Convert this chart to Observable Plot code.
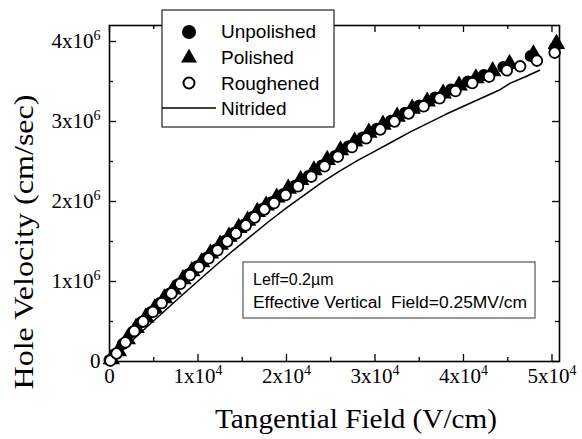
<!DOCTYPE html>
<html><head><meta charset="utf-8">
<script src="https://cdn.jsdelivr.net/npm/d3@7"></script>
<script src="https://cdn.jsdelivr.net/npm/@observablehq/plot@0.6"></script>
<style>body{margin:0;background:#fff}</style>
</head><body><div id="chart"></div>
<script>
// Field in units of 10^3 V/cm, velocity in units of 10^6 cm/sec
const unpolishedX = [0,0.6,1.5,2.6,3.6,4.7,5.7,6.8,7.8,8.9,9.9,11.0,12.0,13.1,14.1,15.2,16.2,17.3,18.3,19.6,21.0,22.5,24.0,25.5,27.0,28.6,30.2,31.8,33.4,35.0,36.8,38.6,40.5,42.3,44.5,47.6,50.3];
const unpolishedV = [0.02,0.09,0.22,0.37,0.49,0.62,0.73,0.85,0.97,1.09,1.19,1.30,1.40,1.51,1.61,1.71,1.81,1.91,1.99,2.09,2.20,2.32,2.45,2.57,2.69,2.80,2.91,3.01,3.11,3.20,3.30,3.40,3.50,3.58,3.68,3.82,3.92];
const polishedX = [0.2,1.0,2.0,3.0,4.1,5.1,6.2,7.2,8.3,9.3,10.4,11.4,12.5,13.5,14.6,15.6,16.7,17.7,18.9,20.2,21.6,23.1,24.6,26.1,27.7,29.3,30.9,32.5,34.2,35.9,37.7,39.5,41.4,43.3,45.2,47.9,50.5];
const polishedV = [0.03,0.13,0.28,0.42,0.55,0.66,0.79,0.90,1.03,1.13,1.24,1.35,1.46,1.56,1.67,1.76,1.87,1.95,2.05,2.16,2.27,2.39,2.52,2.64,2.75,2.86,2.96,3.06,3.16,3.25,3.35,3.45,3.54,3.63,3.72,3.84,3.97];
const roughenedX = [0.1,0.8,1.8,2.8,3.8,4.9,5.9,7.0,8.0,9.1,10.1,11.2,12.2,13.3,14.3,15.4,16.4,17.5,18.6,19.9,21.3,22.8,24.3,25.8,27.4,29.0,30.6,32.2,33.8,35.5,37.3,39.1,41.0,42.9,44.9,46.4,48.3,50.3];
const roughenedV = [0.01,0.10,0.24,0.38,0.50,0.62,0.73,0.85,0.97,1.08,1.18,1.29,1.39,1.50,1.60,1.70,1.80,1.90,1.98,2.08,2.19,2.31,2.44,2.56,2.68,2.79,2.90,3.00,3.10,3.19,3.29,3.38,3.48,3.56,3.64,3.69,3.76,3.86];
const nitridedX = [0,4,8,12,14,16,18,20,22,24,26,28,30,32,34,36,38,40,42,44,45.3,47,48.6];
const nitridedV = [0,0.41,0.81,1.2,1.39,1.57,1.75,1.92,2.08,2.24,2.38,2.51,2.63,2.75,2.87,2.98,3.09,3.19,3.29,3.39,3.48,3.56,3.64];

const xMajor = [0,10,20,30,40,50];
const xMinor = [5,15,25,35,45];
const xTickLabels = ["0","1x10^4","2x10^4","3x10^4","4x10^4","5x10^4"];
const yMajor = [0,1,2,3,4];
const yMinor = [0.5,1.5,2.5,3.5];
const yTickLabels = ["0","1x10^6","2x10^6","3x10^6","4x10^6"];
const seriesNames = ["Unpolished","Polished","Roughened","Nitrided"];
const xTitle = "Tangential Field (V/cm)";
const yTitle = "Hole Velocity (cm/sec)";
const noteLines = ["Leff=0.2\u00b5m","Effective Vertical\u00a0\u00a0Field=0.25MV/cm"];

const toRows = (xs, vs) => xs.map((x, i) => ({x, v: vs[i]}));
const unpolished = toRows(unpolishedX, unpolishedV);
const polished = toRows(polishedX, polishedV);
const roughened = toRows(roughenedX, roughenedV);
const nitrided = toRows(nitridedX, nitridedV);

const W = 582, H = 439, ML = 109, MR = 23, MT = 25, MB = 78;
const FW = W - ML - MR, FH = H - MT - MB;
const serif = "'Liberation Serif','Times New Roman',serif";
const sans = "'Liberation Sans',Arial,sans-serif";

const svg = Plot.plot({
  width: W, height: H,
  marginLeft: ML, marginRight: MR, marginTop: MT, marginBottom: MB,
  x: {domain: [0, 50.85]},
  y: {domain: [0, 4.2]},
  style: {fontFamily: serif, background: "white", color: "black", overflow: "visible"},
  marks: [
    Plot.ruleX(xMajor, {insetTop: FH - 7, strokeWidth: 1.3}),
    Plot.ruleX(xMajor, {insetBottom: FH - 7, strokeWidth: 1.3}),
    Plot.ruleX(xMinor, {insetTop: FH - 4, strokeWidth: 1.3}),
    Plot.ruleX(xMinor, {insetBottom: FH - 4, strokeWidth: 1.3}),
    Plot.ruleY(yMajor, {insetRight: FW - 7, strokeWidth: 1.3}),
    Plot.ruleY(yMajor, {insetLeft: FW - 7, strokeWidth: 1.3}),
    Plot.ruleY(yMinor, {insetRight: FW - 4, strokeWidth: 1.3}),
    Plot.ruleY(yMinor, {insetLeft: FW - 4, strokeWidth: 1.3}),
    Plot.frame({stroke: "black", strokeWidth: 1.6}),
    Plot.axisX(xMajor, {tickSize: 0, tickPadding: 7, fontSize: 21, label: null,
      tickFormat: d => xTickLabels[xMajor.indexOf(d)]}),
    Plot.axisY(yMajor, {tickSize: 0, tickPadding: 9, fontSize: 21, label: null,
      tickFormat: d => yTickLabels[yMajor.indexOf(d)]}),
    Plot.line(nitrided, {x: "x", y: "v", stroke: "black", strokeWidth: 1.5}),
    Plot.dot(unpolished, {x: "x", y: "v", r: 6, fill: "black", symbol: "circle"}),
    Plot.dot(polished, {x: "x", y: "v", r: 6.5, fill: "black", symbol: "triangle"}),
    Plot.dot(roughened, {x: "x", y: "v", r: 5.3, fill: "white", stroke: "black", strokeWidth: 1.8, symbol: "circle"})
  ]
});

const ns = "http://www.w3.org/2000/svg";
svg.querySelectorAll("text").forEach(t => {
  const s = t.textContent;
  if (!s.includes("^")) return;
  const [base, exp] = s.split("^");
  t.textContent = "";
  const a = document.createElementNS(ns, "tspan"); a.textContent = base; t.appendChild(a);
  const b = document.createElementNS(ns, "tspan"); b.textContent = exp;
  b.setAttribute("dy", "-0.6em"); b.setAttribute("font-size", "14"); t.appendChild(b);
});

const g = d3.select(svg).append("g").attr("text-anchor", "start");
// axis titles
g.append("text").attr("x", 356).attr("y", 428).attr("text-anchor", "middle")
  .attr("font-family", serif).attr("font-size", 27).attr("textLength", 282).attr("lengthAdjust", "spacingAndGlyphs")
  .text(xTitle);
g.append("text").attr("transform", "translate(33,242) rotate(-90)").attr("text-anchor", "middle")
  .attr("font-family", serif).attr("font-size", 28).attr("textLength", 295).attr("lengthAdjust", "spacingAndGlyphs")
  .text(yTitle);

// legend
const lg = g.append("g").attr("font-family", sans).attr("font-size", 19).attr("text-anchor", "start");
lg.append("rect").attr("x", 162).attr("y", 10).attr("width", 172).attr("height", 117)
  .attr("fill", "white").attr("stroke", "#222").attr("stroke-width", 1.2);
lg.append("circle").attr("cx", 189).attr("cy", 32).attr("r", 7).attr("fill", "black");
lg.append("path").attr("d", d3.symbol(d3.symbolTriangle, 110)()).attr("transform", "translate(189,58)").attr("fill", "black");
lg.append("circle").attr("cx", 189).attr("cy", 83).attr("r", 5.5).attr("fill", "white").attr("stroke", "black").attr("stroke-width", 2);
lg.append("line").attr("x1", 162).attr("x2", 216).attr("y1", 108).attr("y2", 108).attr("stroke", "black").attr("stroke-width", 1.3);
[38, 64, 90, 115].forEach((y, i) => lg.append("text").attr("x", 221).attr("y", y).attr("text-anchor", "start").text(seriesNames[i]));

// annotation box
const ng = g.append("g").attr("font-family", sans).attr("font-size", 16).attr("text-anchor", "start");
ng.append("rect").attr("x", 243).attr("y", 262).attr("width", 292).attr("height", 56)
  .attr("fill", "white").attr("stroke", "#555").attr("stroke-width", 1.2);
ng.append("text").attr("x", 253).attr("y", 285).attr("text-anchor", "start").text(noteLines[0]);
ng.append("text").attr("x", 253).attr("y", 308).attr("text-anchor", "start").attr("textLength", 274).attr("lengthAdjust", "spacingAndGlyphs").text(noteLines[1]);

document.getElementById("chart").appendChild(svg);
</script></body></html>
